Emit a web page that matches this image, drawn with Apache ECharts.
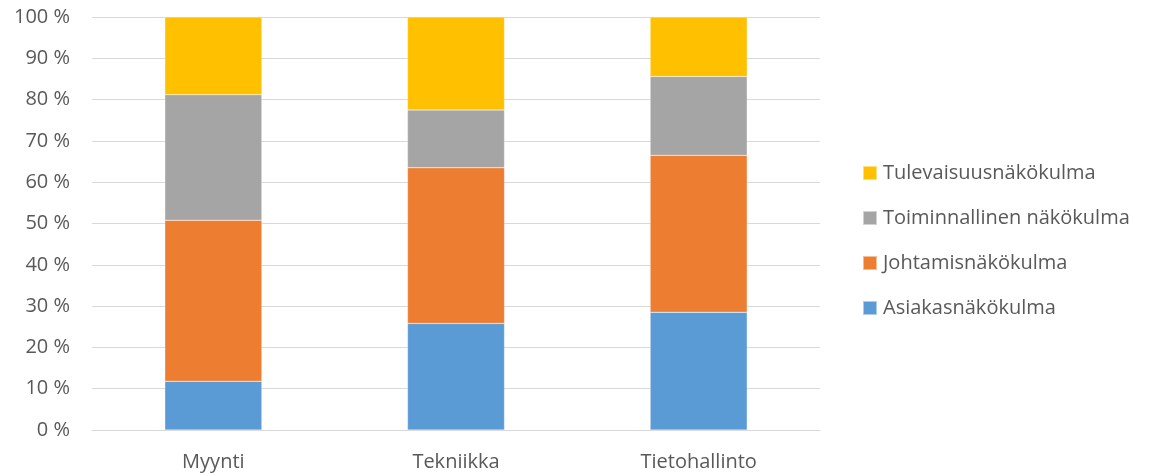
<!DOCTYPE html>
<html><head><meta charset="utf-8">
<script src="https://cdn.jsdelivr.net/npm/echarts@6/dist/echarts.min.js"></script>
<style>html,body{margin:0;padding:0;background:#fff}#c{width:1152px;height:473px}</style>
</head><body><div id="c"></div>
<script>
const categories = ['Myynti', 'Tekniikka', 'Tietohallinto'];
const asiakas = [11.8, 25.8, 28.5];
const johtamis = [39.0, 37.7, 38.0];
const toiminnallinen = [30.4, 14.0, 19.1];
const tulevaisuus = [18.8, 22.5, 14.4];
const seriesNames = ['Asiakasnäkökulma', 'Johtamisnäkökulma', 'Toiminnallinen näkökulma', 'Tulevaisuusnäkökulma'];
const colors = ['#5b9bd5', '#ed7d31', '#a5a5a5', '#ffc000'];

const font = 'Open Sans';
const chart = echarts.init(document.getElementById('c'));
const mk = (name, data) => ({
  name, type: 'bar', stack: 'total', data, barWidth: '40%',
  itemStyle: {borderColor: 'rgba(255,255,255,0.5)', borderWidth: 0.5}
});
chart.setOption({
  animation: false,
  color: colors,
  grid: {left: 92, right: 332, top: 17, bottom: 43, containLabel: false},
  legend: {
    data: seriesNames.slice().reverse(),
    orient: 'vertical', left: 857, top: 158, itemGap: 25, padding: 5,
    itemWidth: 14, itemHeight: 14, icon: 'rect',
    textStyle: {fontFamily: font, fontSize: 20, lineHeight: 20, color: '#595959', padding: [0,0,0,1]}
  },
  xAxis: {
    type: 'category', data: categories,
    axisLine: {lineStyle: {color: '#d9d9d9'}},
    axisTick: {show: false},
    axisLabel: {fontFamily: font, fontSize: 20, color: '#595959', margin: 22}
  },
  yAxis: {
    type: 'value', min: 0, max: 100, interval: 10,
    axisLine: {show: false}, axisTick: {show: false},
    splitLine: {lineStyle: {color: '#d9d9d9', width: 1}},
    axisLabel: {fontFamily: font, fontSize: 20, color: '#595959', margin: 22, formatter: v => v + ' %'}
  },
  series: [mk(seriesNames[0], asiakas), mk(seriesNames[1], johtamis), mk(seriesNames[2], toiminnallinen), mk(seriesNames[3], tulevaisuus)]
});
</script></body></html>
